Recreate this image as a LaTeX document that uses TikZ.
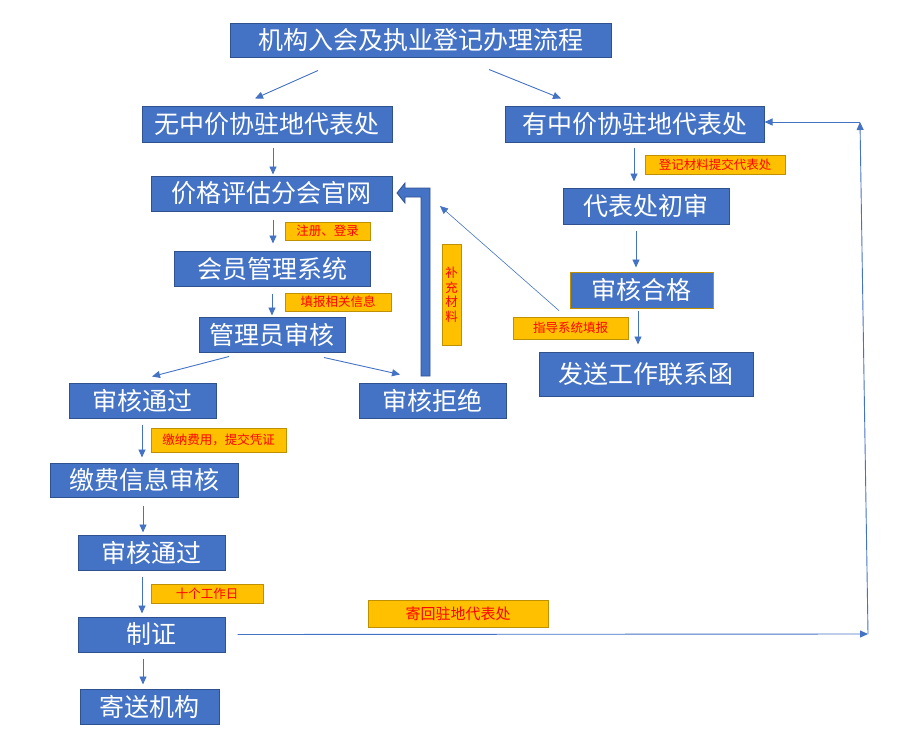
\documentclass[tikz,border=0pt]{standalone}
\usepackage{fontspec}
\newfontfamily\cjk{Noto Sans CJK SC}
\usepackage{tikz}
\usetikzlibrary{arrows.meta}
\usetikzlibrary{calc}

\definecolor{boxblue}{HTML}{4472C4}
\definecolor{boxedge}{HTML}{2F528F}
\definecolor{tagfill}{HTML}{FFC000}
\definecolor{tagedge}{HTML}{BF9000}

\begin{document}
\begin{tikzpicture}[x=1pt,y=-1pt,
  blk/.style={draw=boxedge,fill=boxblue,text=white,line width=1pt,inner sep=0pt,
    font=\cjk\fontsize{25}{29}\selectfont},
  tag/.style={draw=tagedge,fill=tagfill,text=red,line width=0.8pt,inner sep=0pt,
    font=\cjk\fontsize{12.5}{14.5}\selectfont},
  flow/.style={draw=boxblue,line width=0.9pt,-{Triangle[length=8pt,width=7pt]}}]
  \useasboundingbox (0,0) rectangle (904,731);

  % title and the two ways in
  \node[blk,minimum width=381pt,minimum height=34pt,at={(420.5,40)}] (title) {机构入会及执业登记办理流程};
  \node[blk,minimum width=250pt,minimum height=36pt,at={(267,124)}] (noagent) {无中价协驻地代表处};
  \node[blk,minimum width=259pt,minimum height=36pt,at={(634.5,124)}] (agent) {有中价协驻地代表处};

  % left column
  \node[blk,minimum width=241pt,minimum height=35pt,at={(271.5,193.5)}] (website) {价格评估分会官网};
  \node[blk,minimum width=196pt,minimum height=35pt,at={(272,268.5)}] (member) {会员管理系统};
  \node[blk,minimum width=146pt,minimum height=35pt,at={(272,334.5)}] (admin) {管理员审核};
  \node[blk,minimum width=147pt,minimum height=35pt,at={(142.5,400.5)}] (pass1) {审核通过};
  \node[blk,minimum width=147pt,minimum height=35pt,at={(432.5,400.5)}] (refuse) {审核拒绝};
  \node[blk,minimum width=188pt,minimum height=34pt,at={(144,480)}] (fee) {缴费信息审核};
  \node[blk,minimum width=147pt,minimum height=35pt,at={(151.5,552.5)}] (pass2) {审核通过};
  \node[blk,minimum width=147pt,minimum height=35pt,at={(151.5,634.5)}] (cert) {制证};
  \node[blk,minimum width=139pt,minimum height=35pt,at={(149.5,706.5)}] (send) {寄送机构};

  % right column
  \node[blk,minimum width=166pt,minimum height=36pt,at={(646,206)}] (firstcheck) {代表处初审};
  \node[blk,draw=tagedge,minimum width=143pt,minimum height=36pt,at={(641.5,290)}] (qualified) {审核合格};
  \node[blk,minimum width=214pt,minimum height=44pt,at={(646,374)}] (letter) {发送工作联系函};

  % yellow notes
  \node[tag,minimum width=85pt,minimum height=18pt,at={(327.5,231)}] (lregister) {注册、登录};
  \node[tag,minimum width=106pt,minimum height=18pt,at={(338,302)}] (lfill) {填报相关信息};
  \node[tag,minimum width=140pt,minimum height=19pt,at={(715,164.5)}] (lsubmit) {登记材料提交代表处};
  \node[tag,minimum width=115pt,minimum height=22pt,at={(570.5,328)}] (lguide) {指导系统填报};
  \node[tag,minimum width=135pt,minimum height=24pt,at={(218.5,440)}] (lpay) {缴纳费用，提交凭证};
  \node[tag,minimum width=112pt,minimum height=19pt,at={(207,593.5)}] (ldays) {十个工作日};
  \node[tag,minimum width=180pt,minimum height=27pt,at={(458,613.5)},
    font=\cjk\fontsize{15}{18}\selectfont] (lreturn) {寄回驻地代表处};
  \node[tag,minimum width=19pt,minimum height=101pt,align=center,at={(451.5,294.5)}] (lsupply) {补\\充\\材\\料};

  % block arrow back to the website
  \filldraw[fill=boxblue,draw=boxedge,line width=0.8pt]
    (430,376) -- (430,188) -- (405,188) -- (405,183) -- (397,193) -- (405,203)
    -- (405,197) -- (421,197) -- (421,376) -- cycle;

  % arrows
  \draw[flow] ([xshift=-102.5pt,yshift=-13pt]title.south) -- ([xshift=-12pt,yshift=7pt]noagent.north);
  \draw[flow] ([xshift=68.5pt,yshift=-12pt]title.south) -- ([xshift=-73.5pt,yshift=7pt]agent.north);
  \draw[flow,shorten <=5pt,shorten >=1pt] ([xshift=6pt]noagent.south) -- ([xshift=6pt]noagent.south |- website.north);
  \draw[flow,shorten <=8pt,shorten >=7pt] ([xshift=1.5pt]website.south) -- ([xshift=1.5pt]website.south |- member.north);
  \draw[flow,shorten <=7pt,shorten >=1pt] (member.south) -- (member.south |- admin.north);
  \draw[flow] ([xshift=-43pt,yshift=-4pt]admin.south) -- ([xshift=9.5pt,yshift=6pt]pass1.north);
  \draw[flow] ([xshift=52pt,yshift=-5pt]admin.south) -- ([xshift=-32.5pt,yshift=8pt]refuse.north);
  \draw[flow,shorten <=6pt,shorten >=5pt] ([xshift=-0.5pt]pass1.south) -- ([xshift=-0.5pt]pass1.south |- fee.north);
  \draw[flow,shorten <=8pt,shorten >=2pt] ([xshift=-1pt]fee.south) -- ([xshift=-1pt]fee.south |- pass2.north);
  \draw[flow,shorten <=6pt,shorten >=3pt] ([xshift=-9.5pt]pass2.south) -- ([xshift=-9.5pt]pass2.south |- cert.north);
  \draw[flow,shorten <=6pt,shorten >=4pt] ([xshift=-8.5pt]cert.south) -- ([xshift=-8.5pt]cert.south |- send.north);
  \draw[flow,shorten <=5pt,shorten >=6pt] ([xshift=-0.5pt]agent.south) -- ([xshift=-0.5pt]agent.south |- firstcheck.north);
  \draw[flow,shorten <=6pt,shorten >=4pt] ([xshift=-10pt]firstcheck.south) -- ([xshift=-10pt]firstcheck.south |- qualified.north);
  \draw[flow,shorten <=2pt,shorten >=7pt] ([xshift=-3.5pt]qualified.south) -- ([xshift=-3.5pt]qualified.south |- letter.north);

  % guide line and return path
  \coordinate (guidetip) at (440,206);
  \draw[flow,line width=0.6pt] ([xshift=-11.5pt,yshift=6pt]lguide.north) -- (guidetip);
  \coordinate (turnlow) at (868,634);
  \coordinate (turnhigh) at (860,122);
  \draw[flow,shorten <=12pt] (cert.east) -- (turnlow);
  \draw[flow] (turnlow) -- (turnhigh);
  \draw[flow] (turnhigh) -- ([yshift=2pt]agent.east);
\end{tikzpicture}
\end{document}
